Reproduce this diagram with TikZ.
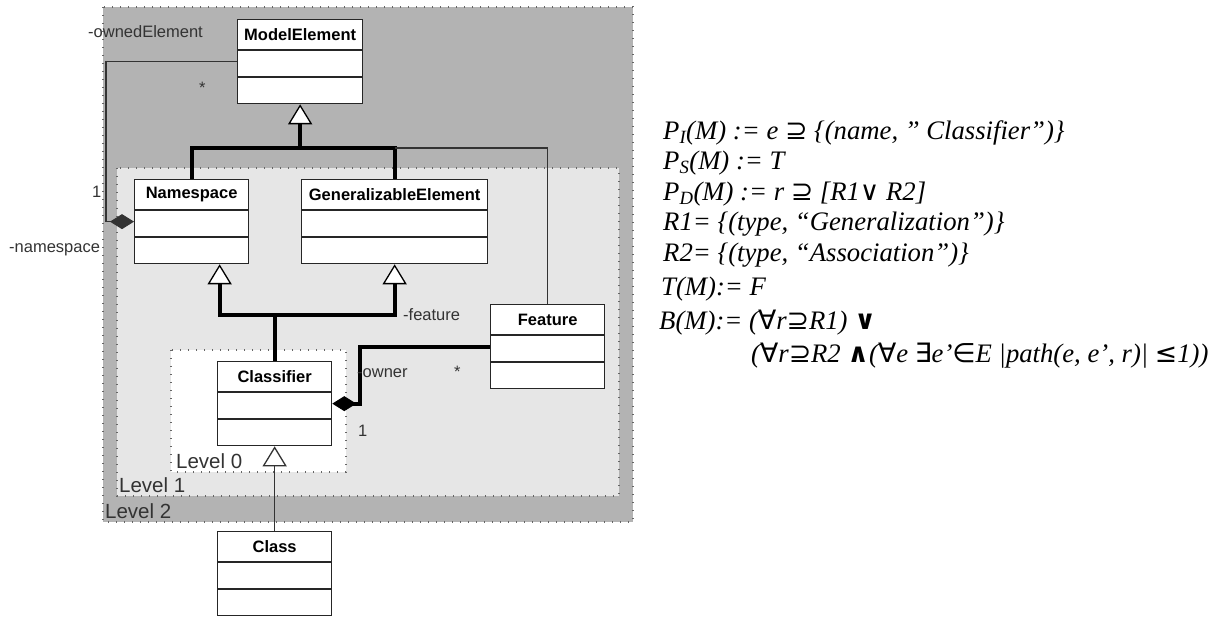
\documentclass[tikz,border=0pt]{standalone}
\usepackage{fontspec}
\setmainfont{Liberation Serif}
\setsansfont{Liberation Sans}
\newfontfamily\symfont{DejaVu Sans}
\usetikzlibrary{arrows.meta}

\definecolor{lvltwo}{HTML}{B3B3B3}
\definecolor{lvlone}{HTML}{E6E6E6}

% class box with name and two empty compartments
\newcommand{\umlclass}[4]{%
  \node[umlbox, minimum width=#3] (#1) at (#2) {};
  \node[umlname] (#1-name) at ([yshift=-15.5]#1.north) {#4};
  \draw[umlrule] ([yshift=-31]#1.north west) -- ([yshift=-31]#1.north east);
  \draw[umlrule] ([yshift=-58]#1.north west) -- ([yshift=-58]#1.north east);
}
\newcommand{\sym}[1]{{\symfont\upshape #1}}

\begin{document}
\begin{tikzpicture}[x=1pt, y=-1pt,
    umlbox/.style={draw=black!85, line width=1.3pt, fill=white, anchor=north west, inner sep=0pt, minimum height=84},
    umlname/.style={inner sep=0pt, font=\sffamily\bfseries\fontsize{16.5}{18}\selectfont},
    umlrule/.style={draw=black!85, line width=1.3pt},
    level/.style={draw=black!60, line width=1.3pt, dash pattern=on 1.4pt off 6.6pt},
    levelname/.style={anchor=west, inner sep=0pt, text=black!80, font=\sffamily\fontsize{20.5}{22}\selectfont},
    role/.style={anchor=west, inner sep=0pt, text=black!80, font=\sffamily\fontsize{16.5}{18}\selectfont},
    thinline/.style={draw=black!80, line width=1.4pt},
    thickline/.style={draw=black, line width=4pt},
    gentip/.style={-{Triangle[fill=white, length=20pt, width=24pt, line width'=1.3pt]}},
    comptip/.style={{Diamond[length=24pt, width=15pt, line width'=1pt]}-},
    formula/.style={anchor=west, inner sep=0pt, font=\itshape\fontsize{26.7}{30}\selectfont}]
  \useasboundingbox (0,0) rectangle (1231,617);

  % levels
  \draw[level, fill=lvltwo] (103,7) rectangle (633,522);
  \draw[level, fill=lvlone] (117,168) rectangle (619,496);
  \draw[level, fill=white] (171,350) rectangle (346,472);
  \node[levelname] (lvl0) at (176,461) {Level 0};
  \node[levelname] (lvl1) at (119,485) {Level 1};
  \node[levelname] (lvl2) at (105,511) {Level 2};

  % classes
  \umlclass{model}{237,19}{125}{ModelElement}
  \umlclass{nspace}{134,179}{114}{Namespace}
  \umlclass{genel}{301,179}{186}{GeneralizableElement}
  \umlclass{feature}{490,304}{114}{Feature}
  \umlclass{classifier}{217,361}{114}{Classifier}
  \umlclass{class}{217,531}{114}{Class}

  % generalizations
  \coordinate (gen1) at ([yshift=31]nspace.north -| model.south);
  \coordinate (gen2) at ([yshift=46]classifier.north);
  \draw[thickline] (nspace.north) |- (gen1) -| (genel.north);
  \draw[thickline, gentip] (gen1) -- (model.south);
  \draw[thinline] (genel.north |- gen1) -| (feature.north);
  \draw[thickline] (classifier.north) -- (gen2);
  \draw[thickline, gentip] (gen2) -| ([xshift=28]nspace.south);
  \draw[thickline, gentip] (gen2) -| (genel.south);
  \draw[thinline, gentip] (class.north) -- (classifier.south);

  % compositions
  \draw[thinline, comptip] (nspace.west) -- ++(-28,0) |- (model.west);
  \draw[thickline, comptip] (classifier.east) -- ++(28,0) |- (feature.west);

  % roles and multiplicities
  \node[role] (owned) at (88,32) {-ownedElement};
  \node[role] (star1) at (199,88) {*};
  \node[role] (one1) at (92,192) {1};
  \node[role] (nsrole) at (9,250) {-namespace};
  \node[role] (feat) at (403,315) {-feature};
  \node[role] (owner) at (357,373) {-owner};
  \node[role] (star2) at (454,372) {*};
  \node[role] (one2) at (358,431) {1};

  % constraints
  \node[formula] (pi) at (663,133) {P\textsubscript{I}(M) := e \sym{⊇} \{(name, ” Classifier”)\}};
  \node[formula] (ps) at (663,163) {P\textsubscript{S}(M) := T};
  \node[formula] (pd) at (663,194) {P\textsubscript{D}(M) := r \sym{⊇} [R1\sym{∨} R2]};
  \node[formula] (r1) at (663,224) {R1= \{(type, “Generalization”)\}};
  \node[formula] (r2) at (663,255) {R2= \{(type, “Association”)\}};
  \node[formula] (tm) at (661,289) {T(M):= F};
  \node[formula] (bm) at (659,323) {B(M):= (\sym{∀}r\sym{⊇}R1) {\symfont\upshape\bfseries ∨}};
  \node[formula] (bm2) at (751,356) {(\sym{∀}r\sym{⊇}R2 {\symfont\upshape\bfseries ∧}(\sym{∀}e \sym{∃}e’\sym{∈}E |path(e, e’, r)| \sym{≤}1))};
\end{tikzpicture}
\end{document}
